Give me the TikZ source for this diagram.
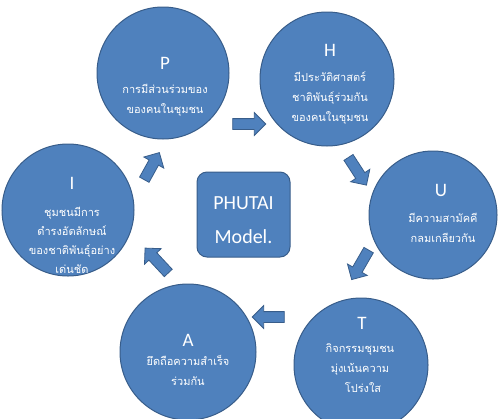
\documentclass[tikz,border=0pt]{standalone}
\usepackage{fontspec}
\newfontfamily\thaifont[Script=Thai]{Loma}
\newfontfamily\calfont{Carlito}
\usetikzlibrary{shapes.arrows}
\definecolor{cfill}{HTML}{4F81BD}
\definecolor{cline}{HTML}{385D8A}
\tikzset{
  circ/.style={circle, fill=cfill, draw=cline, line width=1pt, inner sep=0pt, outer sep=0pt},
  ttl/.style={text=white, font=\calfont\fontsize{19}{22}\selectfont, inner sep=0pt},
  body/.style={text=white, align=center, inner sep=0pt, font=\thaifont\fontsize{11}{20}\selectfont},
  barrow/.style={single arrow, fill=cfill, draw=cline, line width=0.8pt, inner sep=5pt, outer sep=0pt, single arrow head extend=6pt, single arrow tip angle=90},
  mbox/.style={rounded corners=10pt, fill=cfill, draw=cline, line width=1pt, minimum width=93pt, minimum height=85pt, inner sep=0pt},
}
\begin{document}
\begin{tikzpicture}[x=1pt,y=-1pt]
\useasboundingbox (0,0) rectangle (502,418);
\begin{scope}
\clip (0,0) rectangle (502,418);
% circles
\node[circ, minimum size=132pt] (P) at (163,73) {};
\node[circ, minimum size=134pt] (H) at (327,79) {};
\node[circ, minimum size=128pt] (U) at (433,215) {};
\node[circ, minimum size=134pt] (T) at (361,365) {};
\node[circ, minimum size=136pt] (A) at (188,352) {};
\node[circ, minimum size=132pt] (I) at (68,210) {};
\end{scope}
% titles
\node[ttl] (Pt) at (165,63) {P};
\node[ttl] (Ht) at (330,50) {H};
\node[ttl] (Ut) at (441,190) {U};
\node[ttl] (Tt) at (362,323) {T};
\node[ttl] (At) at (188,340) {A};
\node[ttl] (It) at (72,183) {I};
% bodies
\node[body] (Pb) at (165,100) {การมีส่วนร่วมของ\\ของคนในชุมชน};
\node[body] (Hb) at (330,98) {มีประวัติศาสตร์\\ชาติพันธุ์ร่วมกัน\\ของคนในชุมชน};
\node[body] (Ub) at (443,227.5) {มีความสามัคคี\\กลมเกลียวกัน};
\node[body] (Tb) at (360,368) {กิจกรรมชุมชน\\มุ่งเน้นความ\\\hspace*{6pt}โปร่งใส};
\node[body] (Ab) at (188,370) {ยึดถือความสำเร็จ\\ร่วมกัน};
\node[body, font=\thaifont\fontsize{11}{19}\selectfont] (Ib) at (72,240) {ชุมชนมีการ\\ดำรงอัตลักษณ์\\ของชาติพันธุ์อย่าง\\เด่นชัด};
% center box
\node[mbox] (M) at (243.5,214.5) {};
\node[text=white, font=\calfont\fontsize{20}{24}\selectfont, inner sep=0pt] (M1) at (243.5,203) {PHUTAI};
\node[text=white, font=\calfont\fontsize{20}{24}\selectfont, inner sep=0pt] (M2) at (243.5,237) {Model.};
% block arrows
\node[barrow, minimum height=33pt, rotate=0] (a1) at (246.5,124) {};
\node[barrow, minimum height=33pt, rotate=-57] (a2) at (356,169) {};
\node[barrow, minimum height=34pt, rotate=-120] (a3) at (361.5,262.5) {};
\node[barrow, minimum height=32pt, rotate=180] (a4) at (271,317) {};
\node[barrow, minimum height=34pt, rotate=133] (a5) at (158.5,262.5) {};
\node[barrow, minimum height=31pt, rotate=61] (a6) at (150.5,168.5) {};
\end{tikzpicture}
\end{document}
